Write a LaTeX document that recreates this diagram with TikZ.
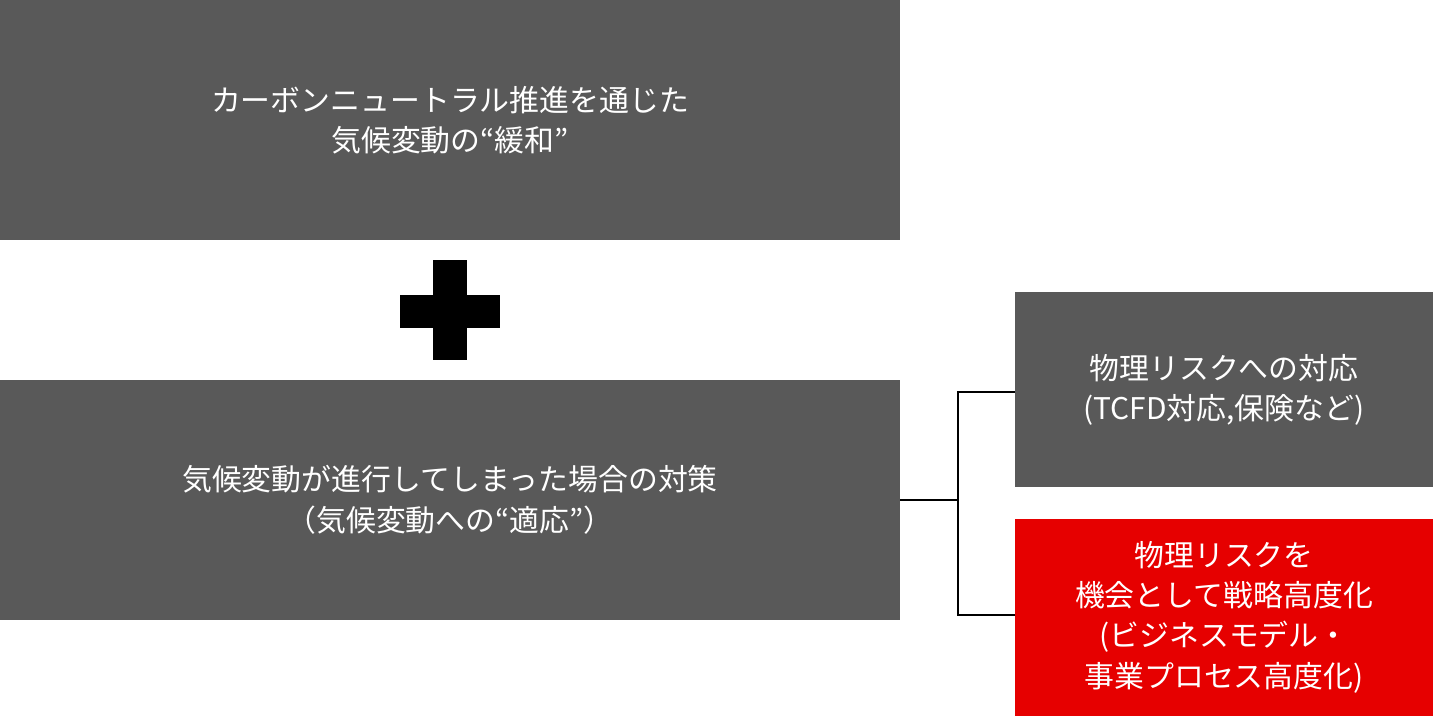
\documentclass[tikz,border=0pt]{standalone}
\usepackage{fontspec}
\setmainfont{Noto Sans CJK JP}
\usetikzlibrary{positioning}
\definecolor{boxgray}{HTML}{595959}
\definecolor{boxred}{HTML}{E60000}
\tikzset{
  panel/.style={fill=boxgray, text=white, align=center, font=\fontsize{17}{23}\selectfont},
  redpanel/.style={panel, fill=boxred},
}
\begin{document}
\begin{tikzpicture}[x=0.02cm,y=-0.02cm]
\useasboundingbox (0,0) rectangle (1433,716);
\fill[boxgray] (0,0) rectangle (900,240);
\node[panel,fill=none] (mitig) at (450,120) {カーボンニュートラル推進を通じた\\気候変動の“緩和”};
\fill (400,295) rectangle (500,328);
\fill (433,260) rectangle (467,360);
\fill[boxgray] (0,380) rectangle (900,620);
\node[panel,fill=none] (adapt) at (450,500) {気候変動が進行してしまった場合の対策\\（気候変動への“適応”）};
\fill[boxgray] (1015,292) rectangle (1433,487);
\node[panel,fill=none] (phys) at (1224,390) {物理リスクへの対応\\(TCFD対応,保険など)};
\fill[boxred] (1015,519) rectangle (1433,716);
\node[panel,fill=none] (oppo) at (1224,617) {物理リスクを\\機会として戦略高度化\\(ビジネスモデル・\\事業プロセス高度化)};
\coordinate (adaptE) at (900,500);
\coordinate (fork) at (958,500);
\coordinate (physW) at (1015,392);
\coordinate (oppoW) at (1015,615);
\draw[thick] (adaptE) -- (fork);
\draw[thick] (physW) -| (fork) |- (oppoW);
\end{tikzpicture}
\end{document}
